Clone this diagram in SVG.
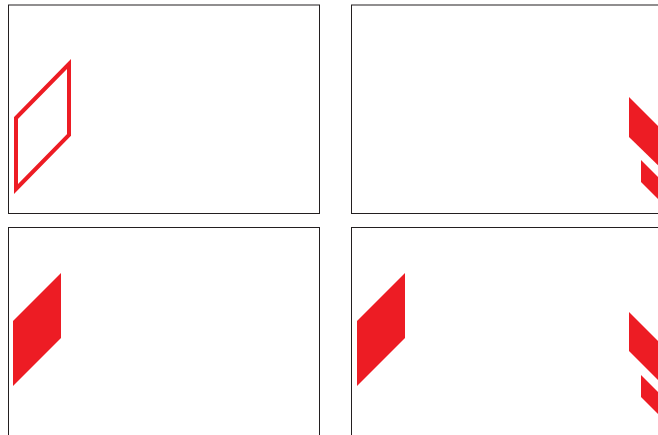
<svg xmlns="http://www.w3.org/2000/svg" width="658" height="435" viewBox="0 0 658 435">
<style>
.frame{fill:#fff;stroke:#231f20;stroke-width:1}
.red{fill:#ed1c24}
.outline{fill:none;stroke:#ed1c24;stroke-width:4}
</style>
<rect width="658" height="435" fill="#fff"/>
<g id="panel-top-left">
<rect class="frame" x="8.5" y="5" width="311" height="208.5"/>
<path class="outline" d="M16,118 L69,64 L69,135 L16,189 Z"/>
</g>
<g id="panel-top-right">
<rect class="frame" x="351.5" y="5" width="320" height="208.5"/>
<polygon class="red" points="629,97 670,138 670,177 629,137"/>
<polygon class="red" points="641,160 670,189 670,211 641,182"/>
</g>
<g id="panel-bottom-left">
<rect class="frame" x="8.5" y="227.5" width="311" height="220"/>
<polygon class="red" points="13,321 61,273 61,338 13,386"/>
</g>
<g id="panel-bottom-right">
<rect class="frame" x="351.5" y="227.5" width="320" height="220"/>
<polygon class="red" points="357,321 405,273 405,338 357,386"/>
<polygon class="red" points="629,312 670,353 670,392 629,351"/>
<polygon class="red" points="641,375 670,404 670,426 641,397"/>
</g>
</svg>
